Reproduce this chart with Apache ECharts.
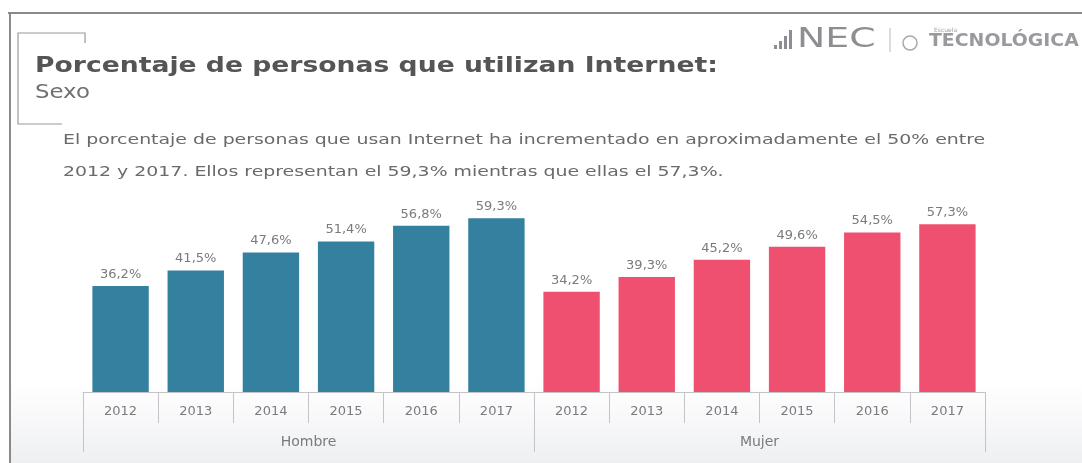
<!DOCTYPE html>
<html>
<head>
<meta charset="utf-8">
<script src="https://cdn.jsdelivr.net/npm/echarts@6/dist/echarts.min.js"></script>
<style>
  html, body { margin: 0; padding: 0; background: #ffffff; }
  #chart { width: 1082px; height: 463px; }
</style>
</head>
<body>
<div id="chart"></div>
<script>
// Internet use by sex, 2012-2017 (percent of persons)
const years = ['2012', '2013', '2014', '2015', '2016', '2017'];
const groups = ['Hombre', 'Mujer'];
const hombre = [36.2, 41.5, 47.6, 51.4, 56.8, 59.3];
const mujer = [34.2, 39.3, 45.2, 49.6, 54.5, 57.3];

const titleText = 'Porcentaje de personas que utilizan Internet:';
const subtitleText = 'Sexo';
const noteLines = [
  'El porcentaje de personas que usan Internet ha incrementado en aproximadamente el 50% entre',
  '2012 y 2017. Ellos representan el 59,3% mientras que ellas el 57,3%.'
];

const colors = { Hombre: '#33819f', Mujer: '#f0506f' };
const FONT = '"DejaVu Sans", sans-serif';

// one category per year of each group
const categories = years.concat(years);
const barData = hombre.map(v => ({ value: v, itemStyle: { color: colors.Hombre } }))
  .concat(mujer.map(v => ({ value: v, itemStyle: { color: colors.Mujer } })));

const fmt = v => v.toFixed(1).replace('.', ',') + '%';

// left-anchored text, stretched horizontally to the wide slide typeface
function wideText(x, y, text, font, fill, sx) {
  return {
    type: 'text', silent: true, x: x, y: y, scaleX: sx, scaleY: 1,
    style: { text: text, font: font, fill: fill, align: 'left', verticalAlign: 'middle' }
  };
}

const chart = echarts.init(document.getElementById('chart'), null, { renderer: 'canvas' });

const option = {
  animation: false,
  backgroundColor: '#ffffff',
  grid: { left: 83, right: 97, top: 187, bottom: 71 },
  xAxis: [
    {
      type: 'category',
      data: categories,
      position: 'bottom',
      axisLine: { show: true, lineStyle: { color: '#c4c4c8', width: 1 } },
      axisTick: { show: true, interval: 0, length: 31, lineStyle: { color: '#c4c4c8' } },
      axisLabel: { interval: 0, margin: 13, color: '#7a7a7f', fontSize: 13, fontFamily: FONT }
    },
    {
      type: 'category',
      data: groups,
      position: 'bottom',
      axisLine: { show: false },
      axisTick: { show: true, interval: 0, length: 60, lineStyle: { color: '#c4c4c8' } },
      axisLabel: { interval: 0, margin: 43, color: '#7a7a7f', fontSize: 14, fontFamily: FONT }
    }
  ],
  yAxis: {
    type: 'value',
    min: 0,
    max: 70,
    show: false,
    splitLine: { show: false }
  },
  series: [
    {
      type: 'bar',
      xAxisIndex: 0,
      data: barData,
      barCategoryGap: '25%',
      label: {
        show: true,
        position: 'top',
        distance: 5,
        color: '#7a7a7f',
        fontSize: 13,
        fontFamily: FONT,
        formatter: p => fmt(p.value)
      }
    }
  ],
  graphic: [
    // soft grey wash behind the axis area
    {
      type: 'rect', silent: true, z: -10,
      shape: { x: 10, y: 380, width: 1072, height: 83 },
      style: {
        fill: new echarts.graphic.LinearGradient(0, 0, 0, 1, [
          { offset: 0, color: 'rgba(240,241,244,0)' },
          { offset: 1, color: 'rgba(238,239,242,1)' }
        ])
      }
    },
    // slide frame
    { type: 'line', silent: true, shape: { x1: 8, y1: 13, x2: 1082, y2: 13 }, style: { stroke: '#8a8a8a', lineWidth: 2 } },
    { type: 'line', silent: true, shape: { x1: 10, y1: 13, x2: 10, y2: 463 }, style: { stroke: '#8a8a8a', lineWidth: 2 } },
    // title bracket
    { type: 'polyline', silent: true, shape: { points: [[85, 43], [85, 33], [18, 33], [18, 124], [62, 124]] }, style: { stroke: '#9a9a9a', lineWidth: 1.2, fill: null } },
    // titles and note
    wideText(35, 66, titleText, 'bold 22px ' + FONT, '#555558', 1.21),
    wideText(35, 93, subtitleText, '19px ' + FONT, '#707074', 1.2),
    wideText(63, 140, noteLines[0], '13.5px ' + FONT, '#6a6a6e', 1.4),
    wideText(63, 172, noteLines[1], '13.5px ' + FONT, '#6a6a6e', 1.4),
    // institutional mark, top right
    { type: 'rect', silent: true, shape: { x: 774, y: 45, width: 3, height: 4 }, style: { fill: '#8e8e92' } },
    { type: 'rect', silent: true, shape: { x: 779, y: 41, width: 3, height: 8 }, style: { fill: '#8e8e92' } },
    { type: 'rect', silent: true, shape: { x: 784, y: 36, width: 3, height: 13 }, style: { fill: '#8e8e92' } },
    { type: 'rect', silent: true, shape: { x: 789, y: 30, width: 3, height: 19 }, style: { fill: '#8e8e92' } },
    wideText(797, 40, 'NEC', '27px ' + FONT, '#8e8e92', 1.4),
    { type: 'line', silent: true, shape: { x1: 890, y1: 28, x2: 890, y2: 52 }, style: { stroke: '#b8b8bc', lineWidth: 1 } },
    { type: 'circle', silent: true, shape: { cx: 910, cy: 43, r: 7 }, style: { stroke: '#a8a8ac', lineWidth: 1.5, fill: null } },
    wideText(934, 30, 'Escuela', '6px ' + FONT, '#a0a0a4', 1),
    wideText(929, 42, 'TECNOLÓGICA', 'bold 17px ' + FONT, '#9a9a9e', 1.11)
  ]
};

chart.setOption(option);
</script>
</body>
</html>
